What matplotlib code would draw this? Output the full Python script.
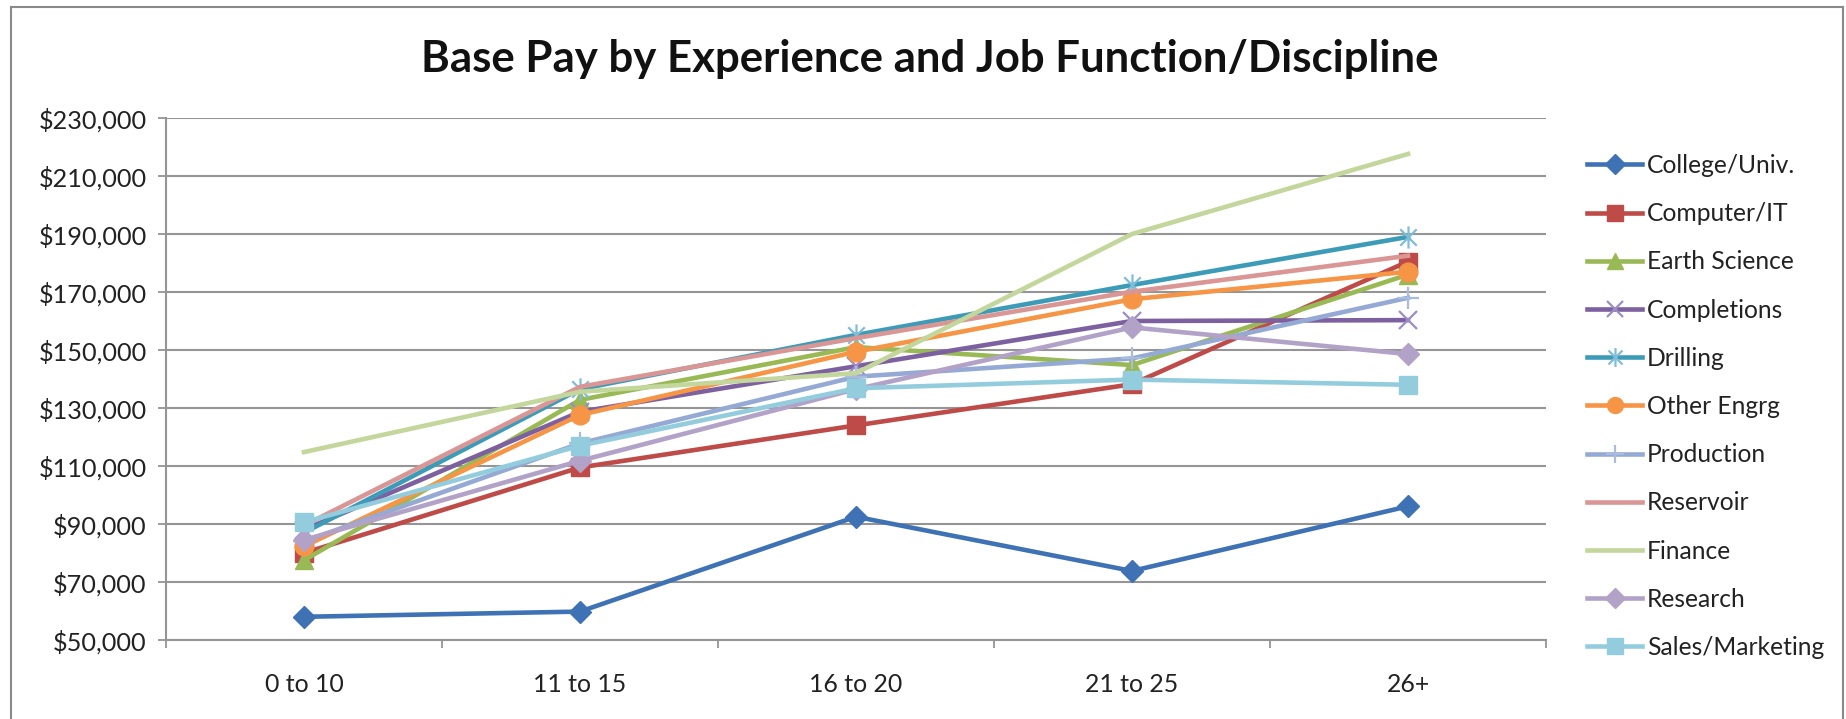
import matplotlib
matplotlib.use("Agg")
import matplotlib.pyplot as plt
from matplotlib.path import Path
from matplotlib.lines import Line2D
from matplotlib.ticker import FixedLocator, FuncFormatter

# ---------------- data ----------------
categories = ["0 to 10", "11 to 15", "16 to 20", "21 to 25", "26+"]

college = [58000, 59800, 92500, 73800, 96100]
computer_it = [80000, 109500, 124000, 138200, 180500]
earth_science = [77500, 132800, 151000, 144800, 176000]
completions = [88000, 128700, 144400, 160000, 160300]
drilling = [87000, 136500, 155200, 172400, 189000]
other_engrg = [82300, 127600, 149400, 167500, 177000]
production = [84000, 117800, 140800, 147100, 168000]
reservoir = [89500, 137300, 154100, 170100, 182500]
finance = [114800, 135600, 142000, 190000, 217600]
research = [84500, 111800, 136500, 157800, 148600]
sales_marketing = [90600, 117000, 136800, 139800, 138000]

series_names = ["College/Univ.", "Computer/IT", "Earth Science", "Completions",
                "Drilling", "Other Engrg", "Production", "Reservoir",
                "Finance", "Research", "Sales/Marketing"]
series_values = [college, computer_it, earth_science, completions, drilling,
                 other_engrg, production, reservoir, finance, research,
                 sales_marketing]

y_ticks = list(range(50000, 230001, 20000))
title_text = "Base Pay by Experience and Job Function/Discipline"

# ---------------- styles ----------------
star_path = Path([(-1, -1), (1, 1), (-1, 1), (1, -1), (0, -1.35), (0, 1.35)],
                 [Path.MOVETO, Path.LINETO, Path.MOVETO, Path.LINETO,
                  Path.MOVETO, Path.LINETO])

styles = [
    dict(color="#3F72B5", marker="D", ms=11.5, mec="#3F72B5", mew=1),
    dict(color="#BE4B48", marker="s", ms=13, mec="#BE4B48", mew=1),
    dict(color="#98B954", marker="^", ms=13.5, mec="#98B954", mew=1),
    dict(color="#7D60A0", marker="x", ms=13, mec="#9C8CC4", mew=1.6),
    dict(color="#3C9CB8", marker=star_path, ms=16, mec="#7FBCD8", mew=1.6),
    dict(color="#F69545", marker="o", ms=13.5, mec="#F69545", mew=1),
    dict(color="#94AAD4", marker="+", ms=16, mec="#A9BCDD", mew=1.6),
    dict(color="#DA9694", marker="None"),
    dict(color="#C3D69B", marker="None"),
    dict(color="#B3A2C7", marker="D", ms=11.5, mec="#B3A2C7", mew=1),
    dict(color="#93CDDD", marker="s", ms=13.5, mec="#93CDDD", mew=1),
]

FONT = "Lato"
W, H = 1846, 719
fig = plt.figure(figsize=(W / 100, H / 100), dpi=100)
renderer = fig.canvas.get_renderer()


def fit_size(text, target_px, weight="normal"):
    t = fig.text(0, 0, text, fontsize=20, family=FONT, weight=weight)
    w = t.get_window_extent(renderer).width
    t.remove()
    return 20 * target_px / w


tick_fs = fit_size("$50,000", 94)
xtick_fs = fit_size("0 to 10", 79)
leg_fs = fit_size("Sales/Marketing", 177)
title_fs = fit_size(title_text, 1019, weight="bold")

# axes: plot area from x=166..1546 px, y=118..640 px
ax = fig.add_axes([166 / W, 1 - 640 / H, (1546 - 166) / W, (640 - 118) / H])

x = list(range(len(categories)))
for name, vals, st in zip(series_names, series_values, styles):
    ax.plot(x, vals, label=name, linewidth=3.3, solid_joinstyle="round",
            **st)

ax.set_xlim(-0.5, len(categories) - 0.5)
ax.set_ylim(y_ticks[0], y_ticks[-1])
ax.yaxis.set_major_locator(FixedLocator(y_ticks))
ax.yaxis.set_major_formatter(FuncFormatter(lambda v, p: "${:,.0f}".format(v)))

ax.xaxis.set_major_locator(FixedLocator([i - 0.5 for i in range(len(categories) + 1)]))
ax.xaxis.set_major_formatter(FuncFormatter(lambda v, p: ""))
ax.xaxis.set_minor_locator(FixedLocator(x))
ax.set_xticklabels(categories, minor=True)

grid_col = "#959595"
ax.yaxis.grid(True, color=grid_col, linewidth=1.5)
ax.set_axisbelow(True)
for s in ["top", "right"]:
    ax.spines[s].set_visible(False)
for s in ["left", "bottom"]:
    ax.spines[s].set_color(grid_col)
    ax.spines[s].set_linewidth(1.5)

ax.tick_params(axis="y", which="major", direction="out", length=6, width=1.3,
               color=grid_col, pad=8, labelsize=tick_fs, labelcolor="#222222")
ax.tick_params(axis="x", which="major", direction="out", length=6, width=1.3,
               color=grid_col)
ax.tick_params(axis="x", which="minor", length=0, pad=24, labelsize=xtick_fs,
               labelcolor="#222222")
for lab in ax.get_yticklabels() + ax.get_xticklabels(minor=True):
    lab.set_family(FONT)

# title
fig.text(929.5 / W, 1 - 72 / H, title_text, ha="center", va="baseline",
         fontsize=title_fs, weight="bold", family=FONT, color="#111111")

# legend
fpx = leg_fs * 100 / 72


def make_legend(spacing):
    return ax.legend(loc="center left",
                     bbox_to_anchor=(1587 / W, 1 - ((166 + 647) / 2) / H),
                     bbox_transform=fig.transFigure, frameon=False,
                     prop=dict(family=FONT, size=leg_fs),
                     handlelength=55 / fpx, handletextpad=5 / fpx,
                     borderpad=0, borderaxespad=0, labelspacing=spacing,
                     markerscale=0.85)


leg = make_legend(1.0)
fig.canvas.draw()
tx = leg.get_texts()
actual = (tx[0].get_window_extent(renderer).y0 - tx[-1].get_window_extent(renderer).y0) / (len(tx) - 1)
leg.remove()
leg = make_legend(1.0 + (48.2 - actual) / fpx)
for t in leg.get_texts():
    t.set_color("#222222")

# chart border
border_col = "#8A8A8A"
fig.add_artist(Line2D([11 / W, 11 / W], [0, 1 - 7 / H], transform=fig.transFigure,
                      color=border_col, linewidth=1.5))
fig.add_artist(Line2D([11 / W, 1843 / W], [1 - 7 / H, 1 - 7 / H],
                      transform=fig.transFigure, color=border_col, linewidth=1.5))
fig.add_artist(Line2D([1843 / W, 1843 / W], [0, 1 - 7 / H], transform=fig.transFigure,
                      color=border_col, linewidth=1.5))

fig.savefig("out.png", dpi=100, facecolor="white")
